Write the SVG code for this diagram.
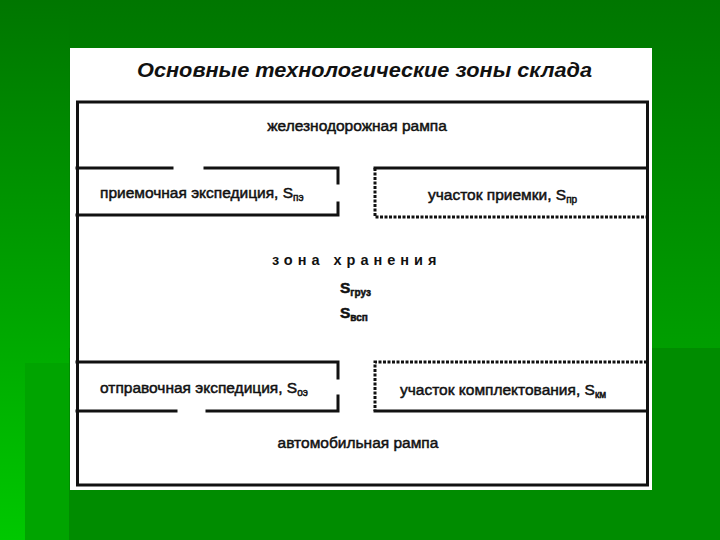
<svg xmlns="http://www.w3.org/2000/svg" width="720" height="540" viewBox="0 0 720 540">
  <defs>
    <linearGradient id="bgTop" gradientUnits="userSpaceOnUse" x1="0" y1="0" x2="0" y2="348">
      <stop offset="0" stop-color="#007600"/>
      <stop offset="1" stop-color="#009e00"/>
    </linearGradient>
    <linearGradient id="bgLeft" gradientUnits="userSpaceOnUse" x1="0" y1="0" x2="0" y2="540">
      <stop offset="0" stop-color="#007600"/>
      <stop offset="1" stop-color="#00c800"/>
    </linearGradient>
  </defs>
  <style>
    .lbl{font-family:"Liberation Sans",Arial,sans-serif;font-size:15.5px;fill:#111;stroke:#111;stroke-width:0.5;}
    .sub{font-size:10px;}
    .wall{fill:none;stroke:#111;stroke-width:3;stroke-linecap:square;}
    .dash{fill:none;stroke:#111;stroke-width:3;stroke-dasharray:3 1.5;}
    .title{font-family:"Liberation Sans",Arial,sans-serif;font-style:italic;font-weight:bold;font-size:21px;fill:#111;}
    .zone{font-family:"Liberation Sans",Arial,sans-serif;font-weight:bold;font-size:14.5px;letter-spacing:5px;fill:#111;}
  </style>

  <!-- background -->
  <rect x="0" y="0" width="720" height="348" fill="url(#bgTop)"/>
  <rect x="0" y="348" width="720" height="192" fill="#008c00"/>
  <rect x="0" y="0" width="69" height="540" fill="url(#bgLeft)"/>
  <rect x="25" y="363" width="44" height="177" fill="#00a400"/>

  <!-- panel -->
  <rect x="70" y="48" width="582" height="442" fill="#ffffff"/>
  <text class="title" x="137" y="77" textLength="455" lengthAdjust="spacingAndGlyphs">Основные технологические зоны склада</text>

  <g id="warehouse">
    <rect class="wall" x="77.5" y="102" width="570" height="383"/>
  </g>

  <g id="rail-ramp">
    <text class="lbl" x="357" y="131" text-anchor="middle">железнодорожная рампа</text>
  </g>

  <g id="receiving-expedition">
    <path class="wall" d="M77,168 H172 M205,168 H338 V183 M338,203 V215 H77"/>
    <text class="lbl" x="100" y="198">приемочная экспедиция, S<tspan class="sub" dy="3">пэ</tspan></text>
  </g>

  <g id="receiving-area">
    <path class="wall" d="M375,168 H647"/>
    <path class="dash" d="M375,168 V217 H647"/>
    <text class="lbl" x="428" y="200">участок приемки, S<tspan class="sub" dy="3">пр</tspan></text>
  </g>

  <g id="storage-zone">
    <text class="zone" x="272" y="265">зона хранения</text>
    <text class="lbl" x="340" y="293" font-weight="bold">S<tspan class="sub" dy="3">груз</tspan></text>
    <text class="lbl" x="340" y="318" font-weight="bold">S<tspan class="sub" dy="3">всп</tspan></text>
  </g>

  <g id="shipping-expedition">
    <path class="wall" d="M77,362 H338 V378 M338,396 V411 H207 M176,411 H77"/>
    <text class="lbl" x="100" y="393">отправочная экспедиция, S<tspan class="sub" dy="3">оэ</tspan></text>
  </g>

  <g id="picking-area">
    <path class="dash" d="M647,362 H375 V411"/>
    <path class="wall" d="M375,411 H647"/>
    <text class="lbl" x="400" y="395">участок комплектования, S<tspan class="sub" dy="3">км</tspan></text>
  </g>

  <g id="truck-ramp">
    <text class="lbl" x="358" y="448" text-anchor="middle">автомобильная рампа</text>
  </g>

  <g id="connectors"></g>
</svg>
